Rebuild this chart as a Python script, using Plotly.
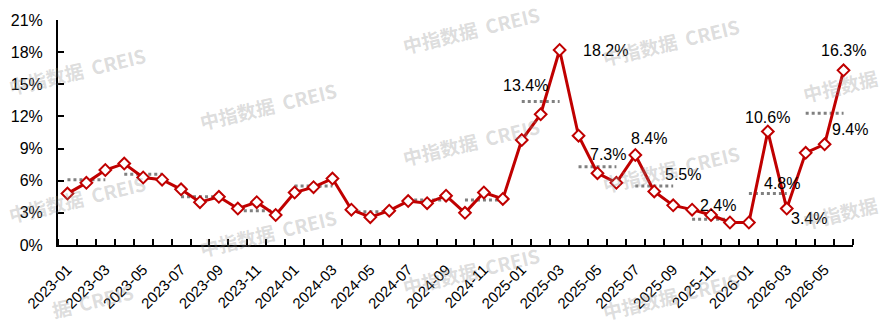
import plotly.graph_objects as go

# ---------------- data ----------------
months = [f"{y}-{m:02d}" for y in (2023, 2024, 2025, 2026) for m in range(1, 13)][:42]
growth = [4.8, 5.8, 7.0, 7.6, 6.3, 6.1, 5.2, 4.0, 4.5, 3.4, 4.0, 2.8,
          4.9, 5.4, 6.2, 3.3, 2.6, 3.2, 4.1, 3.9, 4.6, 3.0, 4.9, 4.3,
          9.8, 12.2, 18.2, 10.2, 6.7, 5.8, 8.4, 5.0, 3.7, 3.3, 2.8, 2.1,
          2.1, 10.6, 3.4, 8.6, 9.4, 16.3]
quarter_avg = [6.1, 6.6, 4.5, 3.2, 5.5, 3.1, 4.2, 4.2, 13.4, 7.3, 5.5, 2.4, 4.8, 12.3]
labeled_points = [26, 30, 37, 38, 40, 41]
labeled_quarters = [8, 9, 10, 11, 12]
tick_labels = months[::2]

# ---------------- style ----------------
RED = "#C00000"
GREY = "#808080"
FONT = "Arial, Liberation Sans, sans-serif"
L, R, T, B = 58, 30, 20, 80
W, H = 883, 325
PW, PH = W - L - R, H - T - B

point_offsets = {26: (46, 0), 30: (14, 17), 37: (0, 14), 38: (22, -10), 40: (25, 15), 41: (0, 20)}
quarter_offsets = {8: (-15, 16), 9: (11, 12), 10: (29, 12), 11: (7, 14), 12: (14, 10)}

fig = go.Figure()

x_idx = list(range(len(months)))

# quarterly average dotted lines
for q, v in enumerate(quarter_avg):
    xs = [q * 3, q * 3 + 2]
    fig.add_trace(go.Scatter(
        x=xs, y=[v, v], mode="lines",
        line=dict(color=GREY, width=3, dash="dot"),
        hoverinfo="skip", showlegend=False))

# monthly line
fig.add_trace(go.Scatter(
    x=x_idx, y=growth, mode="lines+markers",
    line=dict(color=RED, width=3),
    marker=dict(symbol="diamond", size=9, color="white", line=dict(color=RED, width=2)),
    customdata=months, hovertemplate="%{customdata}: %{y}%<extra></extra>",
    showlegend=False))

annotations = []
for i in labeled_points:
    dx, dy = point_offsets[i]
    annotations.append(dict(x=i, y=growth[i], text=f"{growth[i]:.1f}%", showarrow=False,
                            xshift=dx, yshift=dy, font=dict(size=16, color="black", family=FONT)))
for q in labeled_quarters:
    dx, dy = quarter_offsets[q]
    annotations.append(dict(x=q * 3 + 1, y=quarter_avg[q], text=f"{quarter_avg[q]:.1f}%", showarrow=False,
                            xshift=dx, yshift=dy, font=dict(size=16, color="black", family=FONT)))

# watermarks (pixel centres, text)
WM = "中指数据  CREIS"
wm_items = [(77, 70, WM), (77, 198, WM), (92, 300, "据  CREIS"), (268, 105, WM), (268, 232, WM),
            (471, 29, WM), (471, 141, WM), (471, 270, WM),
            (671, 42, WM), (671, 168, WM), (671, 295, WM), (840, 85, "中指数据"), (840, 212, "中指数据")]
for px, py, txt in wm_items:
    annotations.append(dict(xref="paper", yref="paper", x=(px - L) / PW, y=(H - B - py) / PH,
                            xanchor="center", yanchor="middle",
                            text=f"<b>{txt}</b>", showarrow=False, textangle=-13.5,
                            font=dict(size=19, color="rgba(140,140,140,0.3)", family="Noto Sans CJK SC")))

fig.update_layout(
    width=W, height=H,
    margin=dict(l=L, r=R, t=T, b=B, autoexpand=False),
    paper_bgcolor="white", plot_bgcolor="white",
    font=dict(family=FONT, color="black"),
    annotations=annotations,
    xaxis=dict(
        range=[-0.5, len(months) - 0.5], tickmode="array", tickvals=x_idx[::2], ticktext=tick_labels,
        tickangle=-45, ticks="", showgrid=False, zeroline=False, automargin=False,
        showline=True, linecolor="black", linewidth=2,
        tickfont=dict(size=15, family=FONT, color="black"), ticklabelstandoff=8,
        minor=dict(tickmode="linear", tick0=-0.5, dtick=1, ticks="inside", ticklen=6,
                   tickwidth=2, tickcolor="black", showgrid=False),
    ),
    yaxis=dict(
        range=[0, 21], dtick=3, tick0=0, ticksuffix="%", ticks="inside", ticklen=6,
        tickwidth=2, tickcolor="black", showgrid=False, zeroline=False, automargin=False,
        showline=True, linecolor="black", linewidth=2,
        tickfont=dict(size=16, family=FONT, color="black"), ticklabelstandoff=10,
    ),
)

fig.write_html("out.html")
